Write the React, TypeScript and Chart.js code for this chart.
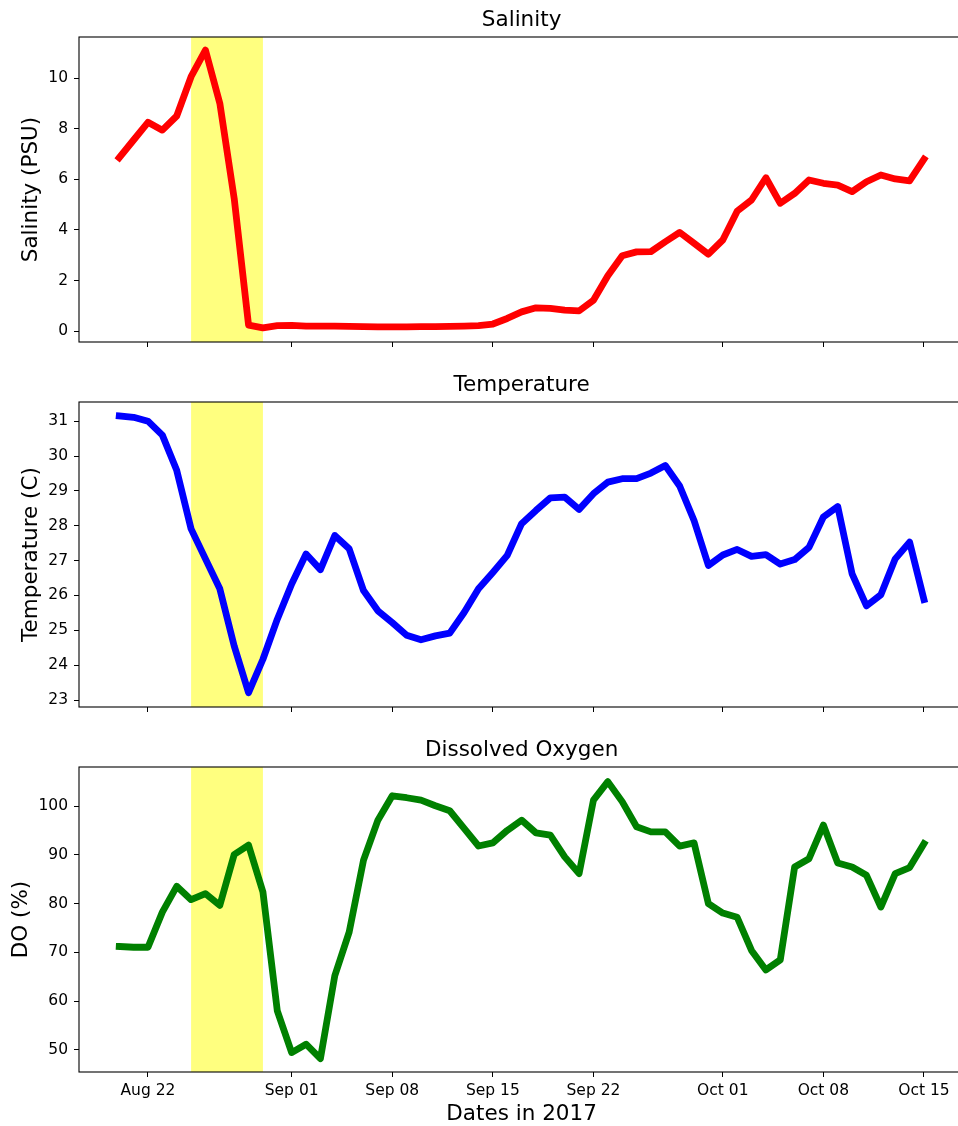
import React, { useEffect, useRef } from "react";
import { Chart, registerables } from "chart.js";

Chart.register(...registerables);
Chart.defaults.font.family = "'DejaVu Sans', sans-serif";
Chart.defaults.color = "#000";

// ---- data ----
const dates = [
  "2017-08-20", "2017-08-21", "2017-08-22", "2017-08-23", "2017-08-24", "2017-08-25",
  "2017-08-26", "2017-08-27", "2017-08-28", "2017-08-29", "2017-08-30", "2017-08-31",
  "2017-09-01", "2017-09-02", "2017-09-03", "2017-09-04", "2017-09-05", "2017-09-06",
  "2017-09-07", "2017-09-08", "2017-09-09", "2017-09-10", "2017-09-11", "2017-09-12",
  "2017-09-13", "2017-09-14", "2017-09-15", "2017-09-16", "2017-09-17", "2017-09-18",
  "2017-09-19", "2017-09-20", "2017-09-21", "2017-09-22", "2017-09-23", "2017-09-24",
  "2017-09-25", "2017-09-26", "2017-09-27", "2017-09-28", "2017-09-29", "2017-09-30",
  "2017-10-01", "2017-10-02", "2017-10-03", "2017-10-04", "2017-10-05", "2017-10-06",
  "2017-10-07", "2017-10-08", "2017-10-09", "2017-10-10", "2017-10-11", "2017-10-12",
  "2017-10-13", "2017-10-14", "2017-10-15",
];

const salinity = [
  6.85, 7.55, 8.25, 7.94, 8.5, 10.05, 11.1, 9.0, 5.24, 0.24, 0.13, 0.22, 0.23, 0.2, 0.2,
  0.2, 0.19, 0.18, 0.17, 0.17, 0.17, 0.18, 0.18, 0.19, 0.2, 0.22, 0.28, 0.5, 0.76, 0.92,
  0.9, 0.83, 0.8, 1.22, 2.19, 2.98, 3.13, 3.14, 3.53, 3.9, 3.47, 3.04, 3.6, 4.74, 5.18,
  6.06, 5.05, 5.44, 5.97, 5.84, 5.77, 5.51, 5.9, 6.17, 6.01, 5.94, 6.79,
];

const temperature = [
  31.15, 31.11, 31.0, 30.6, 29.59, 27.91, 27.05, 26.19, 24.55, 23.21, 24.17, 25.32, 26.33,
  27.19, 26.74, 27.72, 27.34, 26.14, 25.56, 25.22, 24.86, 24.73, 24.84, 24.92, 25.51, 26.19,
  26.66, 27.15, 28.06, 28.44, 28.8, 28.82, 28.47, 28.92, 29.25, 29.35, 29.35, 29.51, 29.73,
  29.14, 28.15, 26.86, 27.16, 27.32, 27.12, 27.17, 26.9, 27.03, 27.38, 28.25, 28.55, 26.62,
  25.7, 26.02, 27.05, 27.53, 25.88,
];

const dissolvedOxygen = [
  71.2, 71.05, 71.05, 78.25, 83.54, 80.8, 82.03, 79.63, 90.06, 91.98, 82.37, 58.02, 49.45,
  51.17, 48.2, 65.2, 74.14, 88.9, 97.1, 102.1, 101.7, 101.2, 100.06, 99.03, 95.4, 91.8,
  92.45, 95.0, 97.1, 94.5, 94.03, 89.57, 86.15, 101.2, 105.0, 100.9, 95.74, 94.7, 94.7,
  91.77, 92.45, 79.97, 78.05, 77.2, 70.4, 66.4, 68.46, 87.5, 89.2, 96.1, 88.3, 87.5, 85.8,
  79.28, 86.15, 87.39, 92.3,
];

const xTickDates = [
  "2017-08-22", "2017-09-01", "2017-09-08", "2017-09-15",
  "2017-09-22", "2017-10-01", "2017-10-08", "2017-10-15",
];
const xTickLabels = ["Aug 22", "Sep 01", "Sep 08", "Sep 15", "Sep 22", "Oct 01", "Oct 08", "Oct 15"];
const hurricaneSpan = ["2017-08-25", "2017-08-30"];

const salinityTicks = [0, 2, 4, 6, 8, 10];
const temperatureTicks = [23, 24, 25, 26, 27, 28, 29, 30, 31];
const doTicks = [50, 60, 70, 80, 90, 100];

// ---- helpers ----
const DAY = 86400000;
const t0 = Date.parse(dates[0] + "T00:00:00Z");
const toDay = (s: string) => (Date.parse(s + "T00:00:00Z") - t0) / DAY;

const CANVAS_W = 966;
const PLOT_LEFT = 79;
const PLOT_BOTTOM_REL = 342;

const bandPlugin = {
  id: "hurricaneBand",
  beforeDatasetsDraw(chart: any) {
    const { ctx, chartArea, scales } = chart;
    const x1 = scales.x.getPixelForValue(toDay(hurricaneSpan[0]));
    const x2 = scales.x.getPixelForValue(toDay(hurricaneSpan[1]));
    ctx.save();
    ctx.fillStyle = "rgba(255,255,0,0.5)";
    ctx.fillRect(x1, chartArea.top, x2 - x1, chartArea.bottom - chartArea.top);
    ctx.restore();
  },
};

const framePlugin = {
  id: "frame",
  afterDraw(chart: any) {
    const { ctx, chartArea } = chart;
    ctx.save();
    ctx.strokeStyle = "#000";
    ctx.lineWidth = 1.1;
    ctx.strokeRect(chartArea.left, chartArea.top, chartArea.right - chartArea.left, chartArea.bottom - chartArea.top);
    ctx.restore();
  },
};

type PanelProps = {
  top: number;
  height: number;
  title: string;
  yLabel: string;
  color: string;
  values: number[];
  yTicks: number[];
  yMin: number;
  yMax: number;
  showX: boolean;
  yTitlePad: number;
};

function Panel(p: PanelProps) {
  const ref = useRef<HTMLCanvasElement | null>(null);
  useEffect(() => {
    if (!ref.current) return;
    const pts = dates.map((d, i) => ({ x: toDay(d), y: p.values[i] }));
    const chart = new Chart(ref.current, {
      type: "line",
      data: {
        datasets: [
          {
            data: pts,
            borderColor: p.color,
            backgroundColor: p.color,
            borderWidth: 6.8,
            pointRadius: 0,
            tension: 0,
            fill: false,
            borderCapStyle: "square",
            borderJoinStyle: "round",
          },
        ],
      },
      options: {
        animation: false,
        responsive: false,
        devicePixelRatio: 1,
        layout: { padding: { left: 0, right: 1.8, top: 0, bottom: 0 } },
        plugins: {
          legend: { display: false },
          tooltip: { enabled: false },
          title: {
            display: true,
            fullSize: false,
            text: p.title,
            color: "#000",
            font: { size: 21.5, weight: "normal" },
            padding: { top: 8, bottom: 3.2 },
          },
        },
        scales: {
          x: {
            type: "linear",
            min: -2.8,
            max: 58.8,
            afterBuildTicks: (s: any) => {
              s.ticks = xTickDates.map((d) => ({ value: toDay(d) }));
            },
            afterFit: (s: any) => {
              s.height = p.height - PLOT_BOTTOM_REL;
            },
            ticks: {
              display: p.showX,
              color: "#000",
              font: { size: 15.5 },
              padding: 4.5,
              maxRotation: 0,
              autoSkip: false,
              callback: (v: any) => {
                const i = xTickDates.findIndex((d) => toDay(d) === v);
                return i >= 0 ? xTickLabels[i] : "";
              },
            },
            grid: {
              display: true,
              drawOnChartArea: false,
              drawTicks: true,
              tickLength: 5,
              color: "#000",
              lineWidth: 1,
            },
            border: { display: false },
            title: {
              display: p.showX,
              text: "Dates in 2017",
              color: "#000",
              font: { size: 21.5, lineHeight: 1 },
              padding: { top: 0, bottom: 0.7 },
            },
          },
          y: {
            type: "linear",
            min: p.yMin,
            max: p.yMax,
            afterBuildTicks: (s: any) => {
              s.ticks = p.yTicks.map((v) => ({ value: v }));
            },
            afterFit: (s: any) => {
              s.width = PLOT_LEFT;
            },
            ticks: {
              color: "#000",
              font: { size: 15.5 },
              padding: 6,
              callback: (v: any) => String(v),
            },
            grid: {
              display: true,
              drawOnChartArea: false,
              drawTicks: true,
              tickLength: 5,
              color: "#000",
              lineWidth: 1,
            },
            border: { display: false },
            title: {
              display: true,
              text: p.yLabel,
              color: "#000",
              font: { size: 21.5 },
              padding: { top: p.yTitlePad, bottom: 0 },
            },
          },
        },
      },
      plugins: [bandPlugin, framePlugin],
    } as any);
    return () => chart.destroy();
  }, []);
  return (
    <canvas
      ref={ref}
      width={CANVAS_W}
      height={p.height}
      style={{ position: "absolute", left: 0, top: p.top, width: CANVAS_W, height: p.height, display: "block" }}
    />
  );
}

export default function App() {
  return (
    <div
      style={{
        position: "absolute",
        left: 0,
        top: 0,
        width: 958,
        height: 1126,
        overflow: "hidden",
        background: "#fff",
      }}
    >
      <Panel
        top={0}
        height={365}
        title="Salinity"
        yLabel="Salinity (PSU)"
        color="#ff0000"
        values={salinity}
        yTicks={salinityTicks}
        yMin={-0.43}
        yMax={11.62}
        showX={false}
        yTitlePad={18.2}
      />
      <Panel
        top={365}
        height={365}
        title="Temperature"
        yLabel="Temperature (C)"
        color="#0000ff"
        values={temperature}
        yTicks={temperatureTicks}
        yMin={22.8}
        yMax={31.55}
        showX={false}
        yTitlePad={18.2}
      />
      <Panel
        top={730}
        height={396}
        title="Dissolved Oxygen"
        yLabel="DO (%)"
        color="#008000"
        values={dissolvedOxygen}
        yTicks={doTicks}
        yMin={45.47}
        yMax={108.0}
        showX={true}
        yTitlePad={8.2}
      />
    </div>
  );
}
